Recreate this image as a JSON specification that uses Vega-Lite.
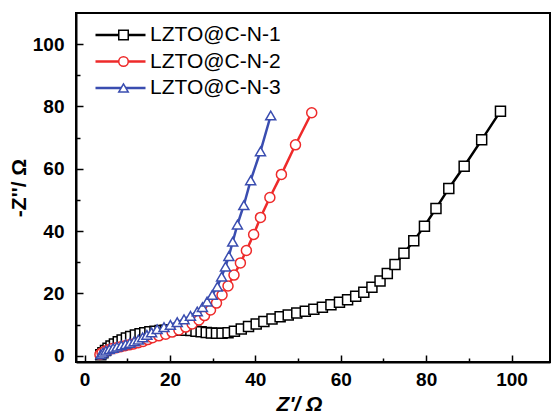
{
  "$schema": "https://vega.github.io/schema/vega-lite/v6.json",
  "width": 474,
  "height": 349,
  "autosize": {"type": "none"},
  "padding": {"left": 76, "top": 13, "right": 2, "bottom": 54},
  "config": {"view": {"stroke": "black", "strokeWidth": 2}, "font": "Liberation Sans"},
  "data": {"values": [
    {"s":"LZTO@C-N-1","x":3.8,"y":0.3},{"s":"LZTO@C-N-1","x":4.3,"y":1.0},{"s":"LZTO@C-N-1","x":4.9,"y":1.7},{"s":"LZTO@C-N-1","x":5.5,"y":2.4},{"s":"LZTO@C-N-1","x":6.2,"y":3.1},{"s":"LZTO@C-N-1","x":7.0,"y":3.8},{"s":"LZTO@C-N-1","x":7.9,"y":4.5},{"s":"LZTO@C-N-1","x":8.8,"y":5.1},{"s":"LZTO@C-N-1","x":9.8,"y":5.7},{"s":"LZTO@C-N-1","x":10.8,"y":6.2},{"s":"LZTO@C-N-1","x":11.9,"y":6.7},{"s":"LZTO@C-N-1","x":13.0,"y":7.1},{"s":"LZTO@C-N-1","x":14.1,"y":7.4},{"s":"LZTO@C-N-1","x":15.3,"y":7.7},{"s":"LZTO@C-N-1","x":16.5,"y":7.9},{"s":"LZTO@C-N-1","x":17.7,"y":8.1},{"s":"LZTO@C-N-1","x":18.9,"y":8.2},{"s":"LZTO@C-N-1","x":20.1,"y":8.3},{"s":"LZTO@C-N-1","x":21.3,"y":8.3},{"s":"LZTO@C-N-1","x":22.5,"y":8.3},{"s":"LZTO@C-N-1","x":23.7,"y":8.2},{"s":"LZTO@C-N-1","x":24.9,"y":8.1},{"s":"LZTO@C-N-1","x":26.1,"y":7.9},{"s":"LZTO@C-N-1","x":27.3,"y":7.7},{"s":"LZTO@C-N-1","x":28.5,"y":7.5},{"s":"LZTO@C-N-1","x":29.7,"y":7.3},{"s":"LZTO@C-N-1","x":30.9,"y":7.2},{"s":"LZTO@C-N-1","x":32.2,"y":7.2},{"s":"LZTO@C-N-1","x":33.6,"y":7.4},{"s":"LZTO@C-N-1","x":35.1,"y":7.9},{"s":"LZTO@C-N-1","x":36.7,"y":8.6},{"s":"LZTO@C-N-1","x":38.4,"y":9.4},{"s":"LZTO@C-N-1","x":40.2,"y":10.2},{"s":"LZTO@C-N-1","x":42.0,"y":11.0},{"s":"LZTO@C-N-1","x":43.9,"y":11.8},{"s":"LZTO@C-N-1","x":45.8,"y":12.5},{"s":"LZTO@C-N-1","x":47.7,"y":13.1},{"s":"LZTO@C-N-1","x":49.7,"y":13.7},{"s":"LZTO@C-N-1","x":51.7,"y":14.3},{"s":"LZTO@C-N-1","x":53.7,"y":14.9},{"s":"LZTO@C-N-1","x":55.7,"y":15.6},{"s":"LZTO@C-N-1","x":57.7,"y":16.4},{"s":"LZTO@C-N-1","x":59.7,"y":17.2},{"s":"LZTO@C-N-1","x":61.6,"y":18.0},{"s":"LZTO@C-N-1","x":63.5,"y":19.1},{"s":"LZTO@C-N-1","x":65.4,"y":20.4},{"s":"LZTO@C-N-1","x":67.3,"y":22.0},{"s":"LZTO@C-N-1","x":69.2,"y":24.0},{"s":"LZTO@C-N-1","x":70.9,"y":26.4},{"s":"LZTO@C-N-1","x":72.7,"y":29.3},{"s":"LZTO@C-N-1","x":74.8,"y":32.9},{"s":"LZTO@C-N-1","x":77.1,"y":36.9},{"s":"LZTO@C-N-1","x":79.6,"y":41.6},{"s":"LZTO@C-N-1","x":82.3,"y":47.3},{"s":"LZTO@C-N-1","x":85.3,"y":53.7},{"s":"LZTO@C-N-1","x":88.9,"y":60.8},{"s":"LZTO@C-N-1","x":93.0,"y":69.3},{"s":"LZTO@C-N-1","x":97.4,"y":78.5},
    {"s":"LZTO@C-N-2","x":3.6,"y":0.4},{"s":"LZTO@C-N-2","x":4.1,"y":1.0},{"s":"LZTO@C-N-2","x":4.8,"y":1.5},{"s":"LZTO@C-N-2","x":5.6,"y":1.9},{"s":"LZTO@C-N-2","x":6.5,"y":2.3},{"s":"LZTO@C-N-2","x":7.5,"y":2.6},{"s":"LZTO@C-N-2","x":8.5,"y":2.9},{"s":"LZTO@C-N-2","x":9.5,"y":3.2},{"s":"LZTO@C-N-2","x":10.5,"y":3.5},{"s":"LZTO@C-N-2","x":11.5,"y":3.8},{"s":"LZTO@C-N-2","x":12.6,"y":4.2},{"s":"LZTO@C-N-2","x":13.7,"y":4.6},{"s":"LZTO@C-N-2","x":14.8,"y":5.2},{"s":"LZTO@C-N-2","x":15.9,"y":5.8},{"s":"LZTO@C-N-2","x":17.4,"y":6.4},{"s":"LZTO@C-N-2","x":19.0,"y":6.9},{"s":"LZTO@C-N-2","x":20.5,"y":7.6},{"s":"LZTO@C-N-2","x":22.1,"y":8.3},{"s":"LZTO@C-N-2","x":23.7,"y":9.2},{"s":"LZTO@C-N-2","x":25.2,"y":10.2},{"s":"LZTO@C-N-2","x":26.8,"y":11.5},{"s":"LZTO@C-N-2","x":28.1,"y":12.9},{"s":"LZTO@C-N-2","x":29.5,"y":14.7},{"s":"LZTO@C-N-2","x":30.9,"y":16.9},{"s":"LZTO@C-N-2","x":32.2,"y":19.5},{"s":"LZTO@C-N-2","x":33.6,"y":22.4},{"s":"LZTO@C-N-2","x":35.0,"y":25.9},{"s":"LZTO@C-N-2","x":36.5,"y":29.8},{"s":"LZTO@C-N-2","x":37.9,"y":33.8},{"s":"LZTO@C-N-2","x":39.6,"y":38.9},{"s":"LZTO@C-N-2","x":41.2,"y":44.4},{"s":"LZTO@C-N-2","x":43.4,"y":50.8},{"s":"LZTO@C-N-2","x":46.1,"y":58.2},{"s":"LZTO@C-N-2","x":49.4,"y":67.7},{"s":"LZTO@C-N-2","x":53.2,"y":78.0},
    {"s":"LZTO@C-N-3","x":3.8,"y":0.4},{"s":"LZTO@C-N-3","x":4.3,"y":1.0},{"s":"LZTO@C-N-3","x":5.0,"y":1.6},{"s":"LZTO@C-N-3","x":5.8,"y":2.1},{"s":"LZTO@C-N-3","x":6.7,"y":2.5},{"s":"LZTO@C-N-3","x":7.6,"y":2.9},{"s":"LZTO@C-N-3","x":8.6,"y":3.3},{"s":"LZTO@C-N-3","x":9.6,"y":3.7},{"s":"LZTO@C-N-3","x":10.6,"y":4.1},{"s":"LZTO@C-N-3","x":11.6,"y":4.6},{"s":"LZTO@C-N-3","x":12.6,"y":5.2},{"s":"LZTO@C-N-3","x":13.6,"y":5.9},{"s":"LZTO@C-N-3","x":14.6,"y":6.7},{"s":"LZTO@C-N-3","x":15.7,"y":7.5},{"s":"LZTO@C-N-3","x":17.0,"y":8.5},{"s":"LZTO@C-N-3","x":18.6,"y":9.2},{"s":"LZTO@C-N-3","x":20.1,"y":9.9},{"s":"LZTO@C-N-3","x":21.7,"y":10.8},{"s":"LZTO@C-N-3","x":23.3,"y":11.7},{"s":"LZTO@C-N-3","x":24.8,"y":12.8},{"s":"LZTO@C-N-3","x":26.4,"y":14.2},{"s":"LZTO@C-N-3","x":27.6,"y":15.6},{"s":"LZTO@C-N-3","x":28.7,"y":17.4},{"s":"LZTO@C-N-3","x":29.9,"y":19.5},{"s":"LZTO@C-N-3","x":31.1,"y":22.2},{"s":"LZTO@C-N-3","x":32.1,"y":25.4},{"s":"LZTO@C-N-3","x":33.0,"y":28.6},{"s":"LZTO@C-N-3","x":33.8,"y":32.0},{"s":"LZTO@C-N-3","x":34.7,"y":36.6},{"s":"LZTO@C-N-3","x":35.8,"y":42.1},{"s":"LZTO@C-N-3","x":37.3,"y":48.3},{"s":"LZTO@C-N-3","x":38.9,"y":56.3},{"s":"LZTO@C-N-3","x":41.2,"y":65.6},{"s":"LZTO@C-N-3","x":43.6,"y":77.1}
  ]},
  "encoding": {
    "x": {"field": "x", "type": "quantitative",
      "scale": {"domain": [-2, 109], "nice": false, "zero": false},
      "axis": {"values": [0,10,20,30,40,50,60,70,80,90,100],
        "labelExpr": "datum.value % 20 === 0 ? datum.label : ''",
        "tickSize": {"condition": {"test": "datum.value % 20 === 0", "value": -7}, "value": -4},
        "tickColor": "black", "tickWidth": 1.5, "domainColor": "black", "domainWidth": 2,
        "labelFont": "Liberation Sans", "labelFontSize": 19, "labelFontWeight": "bold", "labelColor": "black",
        "labelPadding": 15, "labelOverlap": false, "labelFlush": false, "grid": false,
        "title": "Z'/ Ω", "titleFont": "Liberation Sans", "titleFontSize": 21, "titleFontWeight": "bold", "titleFontStyle": "italic",
        "titleColor": "black", "titlePadding": 1, "titleX": 223}},
    "y": {"field": "y", "type": "quantitative",
      "scale": {"domain": [-2, 110], "nice": false, "zero": false},
      "axis": {"values": [0,10,20,30,40,50,60,70,80,90,100],
        "labelExpr": "datum.value % 20 === 0 ? datum.label : ''",
        "tickSize": {"condition": {"test": "datum.value % 20 === 0", "value": -7}, "value": -4},
        "tickColor": "black", "tickWidth": 1.5, "domainColor": "black", "domainWidth": 2,
        "labelFont": "Liberation Sans", "labelFontSize": 19, "labelFontWeight": "bold", "labelColor": "black",
        "labelPadding": 19, "labelOverlap": false, "labelFlush": false, "grid": false,
        "title": "-Z''/ Ω", "titleFont": "Liberation Sans", "titleFontSize": 21, "titleFontWeight": "bold",
        "titleColor": "black", "titlePadding": 3}}
  },
  "layer": [
    {"mark": {"type": "line", "strokeWidth": 2.5},
     "encoding": {"color": {"field": "s", "type": "nominal", "scale": {"range": ["#000000", "#ee2a2a", "#3a4db0"]},
       "legend": {"title": null, "orient": "top-left", "offset": 10, "symbolType": "stroke", "symbolSize": 2500,
         "symbolStrokeWidth": 2.5, "symbolOffset": 8, "clipHeight": 24, "rowPadding": 2.5,
         "labelFont": "Liberation Sans", "labelFontSize": 21, "labelColor": "black", "labelOffset": 3, "padding": 0}}}},
    {"mark": {"type": "point", "filled": true, "fill": "white", "size": 100, "strokeWidth": 1.5, "opacity": 1},
     "encoding": {
       "stroke": {"field": "s", "type": "nominal", "scale": {"range": ["#000000", "#ee2a2a", "#3a4db0"]},
         "legend": {"title": null, "orient": "none", "legendX": 37, "legendY": 10, "symbolSize": 90, "symbolStrokeWidth": 1.5,
           "symbolFillColor": "white", "symbolOpacity": 1, "clipHeight": 24, "rowPadding": 2.5,
           "labelFont": "Liberation Sans", "labelFontSize": 21, "labelExpr": "''", "padding": 0}},
       "shape": {"field": "s", "type": "nominal", "scale": {"range": ["square", "circle", "triangle-up"]},
         "legend": {"title": null, "orient": "none", "legendX": 37, "legendY": 10, "symbolSize": 90, "symbolStrokeWidth": 1.5,
           "symbolFillColor": "white", "symbolOpacity": 1, "clipHeight": 24, "rowPadding": 2.5,
           "labelFont": "Liberation Sans", "labelFontSize": 21, "labelExpr": "''", "padding": 0}}}}
  ]
}
